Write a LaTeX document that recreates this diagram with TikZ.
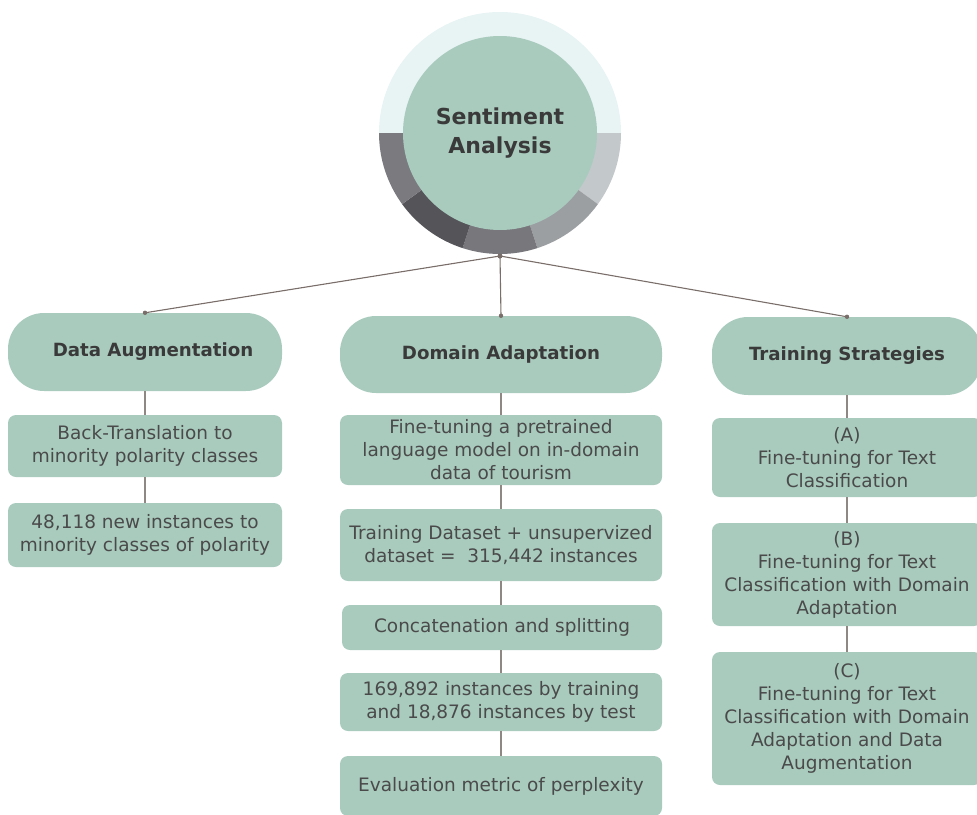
\documentclass[tikz,border=0pt]{standalone}
\usepackage{fontspec}
\setmainfont{DejaVu Sans}
\usetikzlibrary{calc}
\definecolor{sage}{HTML}{A9CBBE}
\definecolor{bodytxt}{HTML}{4A4A4A}
\definecolor{headtxt}{HTML}{3A3A3A}
\definecolor{linecol}{HTML}{7A6E6A}
\definecolor{vcol}{HTML}{8E8784}
\definecolor{ringtop}{HTML}{E8F3F3}
\definecolor{ringA}{HTML}{C3C8CA}
\definecolor{ringB}{HTML}{9C9FA2}
\definecolor{ringC}{HTML}{77777C}
\definecolor{ringD}{HTML}{555459}
\definecolor{ringE}{HTML}{7A7A7F}
\begin{document}
\begin{tikzpicture}[x=1pt,y=-1pt,
  box/.style={fill=sage, draw=none, rounded corners=8pt, inner sep=0pt, align=center, text=bodytxt, font=\fontsize{18.5}{23}\selectfont},
  bigbox/.style={box, rounded corners=36pt, font=\fontsize{18.2}{22}\selectfont\bfseries, text=headtxt},
  conn/.style={draw=linecol, line width=1.1pt},
  vline/.style={draw=vcol, line width=1.1pt},
  dot/.style={fill=linecol}]
\clip (0,0) rectangle (977,814);
% ring
\coordinate (c) at (500,133);
\fill[ringtop] (c) -- ++(180:121) arc[start angle=180,end angle=360,radius=121] -- cycle;
\fill[ringA] (c) -- ++(0:121) arc[start angle=0,end angle=36,radius=121] -- cycle;
\fill[ringB] (c) -- ++(36:121) arc[start angle=36,end angle=72,radius=121] -- cycle;
\fill[ringC] (c) -- ++(72:121) arc[start angle=72,end angle=108,radius=121] -- cycle;
\fill[ringD] (c) -- ++(108:121) arc[start angle=108,end angle=144,radius=121] -- cycle;
\fill[ringE] (c) -- ++(144:121) arc[start angle=144,end angle=180,radius=121] -- cycle;
\node[circle, fill=sage, minimum size=194pt, inner sep=0pt, align=center, text=headtxt,
  font=\fontsize{22}{29}\selectfont\bfseries] (sa) at (c) {Sentiment\\Analysis};
\coordinate (hub) at (500,256);

% left column
\node[bigbox, minimum width=274pt, minimum height=78pt] (da) at (145,352) {\hspace{16pt}Data Augmentation};
\node[box, minimum width=274pt, minimum height=62pt] (bt) at (145,446) {Back-Translation to\\minority polarity classes};
\node[box, minimum width=274pt, minimum height=64pt] (nb) at (145,535) {48,118 new instances to\\minority classes of polarity};

% middle column
\node[bigbox, minimum width=322pt, minimum height=77pt] (dom) at (501,354.5) {Domain Adaptation};
\node[box, minimum width=322pt, minimum height=70pt] (ft) at (501,450) {Fine-tuning a pretrained\\language model on in-domain\\data of tourism};
\node[box, minimum width=322pt, minimum height=72pt] (td) at (501,545) {Training Dataset + unsupervized\\dataset =\ \ 315,442 instances};
\node[box, minimum width=320pt, minimum height=45pt] (cs) at (502,627.5) {Concatenation and splitting};
\node[box, minimum width=322pt, minimum height=58pt] (ib) at (501,702) {169,892 instances by training\\and 18,876 instances by test};
\node[box, minimum width=322pt, minimum height=60pt] (ev) at (501,786) {Evaluation metric of perplexity};

% right column
\node[bigbox, minimum width=270pt, minimum height=78pt] (ts) at (847,356) {Training Strategies};
\node[box, minimum width=270pt, minimum height=79pt] (ta) at (847,457.5) {(A)\\Fine-tuning for Text\\Classification};
\node[box, minimum width=270pt, minimum height=103pt] (tb) at (847,574.5) {(B)\\Fine-tuning for Text\\Classification with Domain\\Adaptation};
\node[box, minimum width=270pt, minimum height=133pt] (tc) at (847,718.5) {(C)\\Fine-tuning for Text\\Classification with Domain\\Adaptation and Data\\Augmentation};

% top connectors
\draw[conn] (hub) -- (da.north);
\draw[conn] (hub) -- (dom.north);
\draw[conn] (hub) -- (ts.north);
\fill[dot] (da.north) circle (2.2);
\fill[dot] (dom.north) circle (2.2);
\fill[dot] (ts.north) circle (2.2);
\fill[dot] (hub) circle (2.5);

% vertical connectors
\draw[vline] (da.south) -- (bt.north);
\draw[vline] (bt.south) -- (nb.north);
\draw[vline] (dom.south) -- (ft.north);
\draw[vline] (ft.south) -- (td.north);
\draw[vline] (td.south) -- (cs.north -| td.south);
\draw[vline] (cs.south -| td.south) -- (ib.north);
\draw[vline] (ib.south) -- (ev.north);
\draw[vline] (ts.south) -- (ta.north);
\draw[vline] (ta.south) -- (tb.north);
\draw[vline] (tb.south) -- (tc.north);
\end{tikzpicture}
\end{document}
